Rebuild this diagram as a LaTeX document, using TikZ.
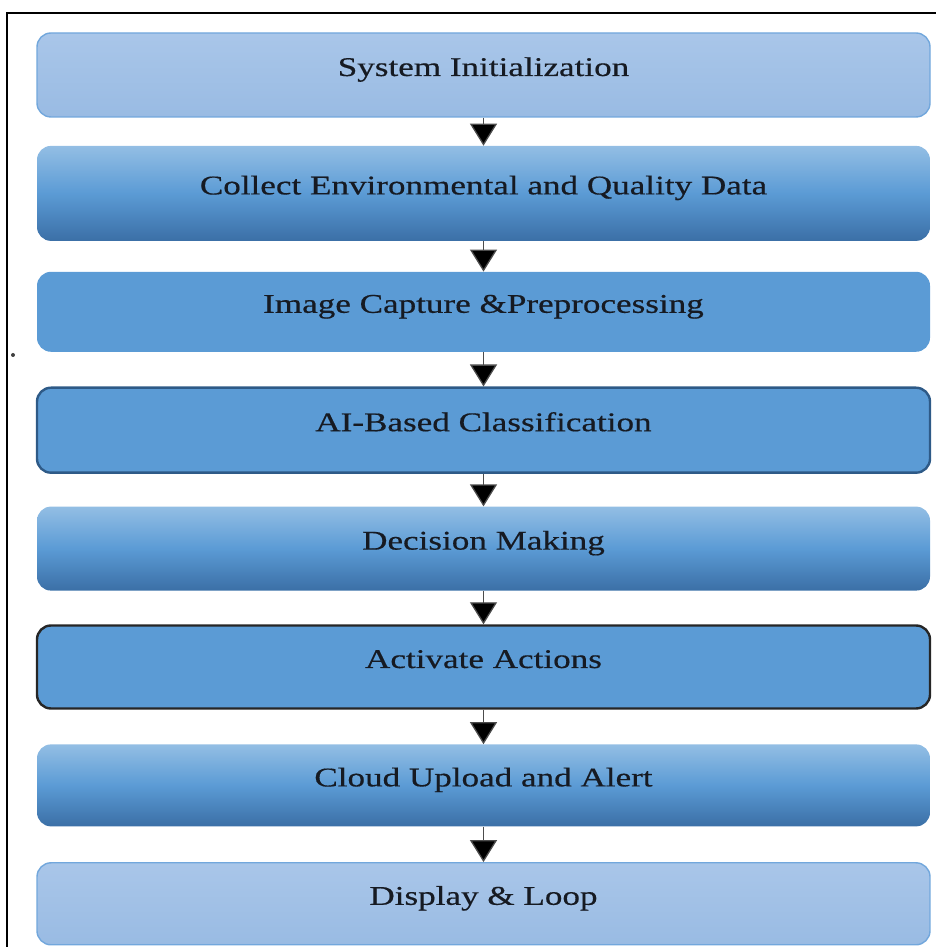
\documentclass[tikz,border=0pt]{standalone}
\usepackage{fontspec}
\setmainfont{Liberation Serif}[FakeStretch=1.3,FakeBold=0.5]
\usetikzlibrary{arrows.meta}
\definecolor{boxlight}{HTML}{A9C6E9}
\definecolor{boxlightlow}{HTML}{99BBE3}
\definecolor{edgelight}{HTML}{72A7DC}
\definecolor{boxmid}{HTML}{5B9BD5}
\definecolor{gradtop}{HTML}{93BEE4}
\definecolor{gradbot}{HTML}{3B6FA6}
\definecolor{edgedark}{HTML}{2E5A87}
\definecolor{textdark}{HTML}{161A22}
\begin{document}
\begin{tikzpicture}[x=1pt,y=1pt,node distance=118.4pt]
\tikzstyle{stepbox} = [rectangle, rounded corners=14pt, minimum width=893pt, minimum height=84pt, text height=20pt, text depth=18pt, text=textdark, font=\fontsize{27}{32}\selectfont]
\tikzstyle{lightbox} = [stepbox, draw=edgelight, line width=1.4pt, top color=boxlight, bottom color=boxlightlow]
\tikzstyle{gradbox} = [stepbox, top color=gradtop, bottom color=gradbot, middle color=boxmid]
\tikzstyle{flatbox} = [stepbox, fill=boxmid]
\tikzstyle{arrow} = [draw=black!70, line width=1.3pt, -{Triangle[width=27pt,length=22pt,fill=black]}]
\useasboundingbox (0,0) rectangle (936,947);
\draw[line width=2.5pt] (7,0) -- (7,934) -- (936,934);
\fill[black!75] (13,592) circle (2pt);
\node (init) [lightbox] at (483.5,872) {System Initialization};
\node (collect) [gradbox, below of=init, minimum height=95pt] {Collect Environmental and Quality Data};
\node (capture) [flatbox, below of=collect, minimum height=80pt] {Image Capture \&Preprocessing};
\node (classify) [flatbox, below of=capture, draw=edgedark, line width=2.4pt, minimum height=85pt] {AI-Based Classification};
\node (decide) [gradbox, below of=classify] {Decision Making};
\node (act) [flatbox, below of=decide, draw=black!85, line width=2.4pt, minimum height=83pt] {Activate Actions};
\node (cloud) [gradbox, below of=act, minimum height=82pt] {Cloud Upload and Alert};
\node (loop) [lightbox, below of=cloud, minimum height=82pt] {Display \& Loop};
\draw [arrow] (init) -- (collect);
\draw [arrow] (collect) -- (capture);
\draw [arrow] (capture) -- (classify);
\draw [arrow] (classify) -- (decide);
\draw [arrow] (decide) -- (act);
\draw [arrow] (act) -- (cloud);
\draw [arrow] (cloud) -- (loop);
\end{tikzpicture}
\end{document}
